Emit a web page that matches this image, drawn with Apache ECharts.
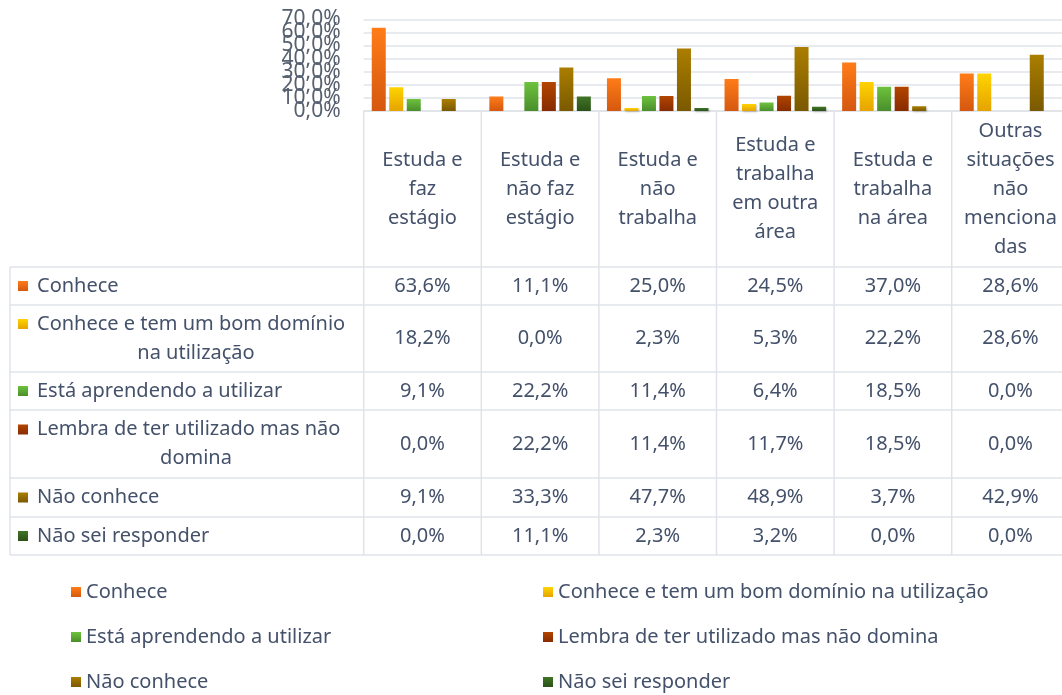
<!DOCTYPE html>
<html>
<head>
<meta charset="utf-8">
<script src="https://cdn.jsdelivr.net/npm/echarts@6/dist/echarts.min.js"></script>
<style>
  html, body { margin: 0; padding: 0; background: #fff; overflow: hidden; }
  #chart { width: 1070px; height: 695px; }
</style>
</head>
<body>
<div id="chart"></div>
<script>
const categories = [
  'Estuda e\nfaz\nestágio',
  'Estuda e\nnão faz\nestágio',
  'Estuda e\nnão\ntrabalha',
  'Estuda e\ntrabalha\nem outra\nárea',
  'Estuda e\ntrabalha\nna área',
  'Outras\nsituações\nnão\nmenciona\ndas'
]
const seriesNames = [
  'Conhece',
  'Conhece e tem um bom domínio na utilização',
  'Está aprendendo a utilizar',
  'Lembra de ter utilizado mas não domina',
  'Não conhece',
  'Não sei responder'
]
// row labels as they wrap in the data table
const tableLabels = [
  ['Conhece'],
  ['Conhece e tem um bom domínio', 'na utilização'],
  ['Está aprendendo a utilizar'],
  ['Lembra de ter utilizado mas não', 'domina'],
  ['Não conhece'],
  ['Não sei responder']
]
const yTicks = [0, 10, 20, 30, 40, 50, 60, 70]
const conhece = [63.6, 11.1, 25.0, 24.5, 37.0, 28.6]
const conheceBomDominio = [18.2, 0.0, 2.3, 5.3, 22.2, 28.6]
const aprendendo = [9.1, 22.2, 11.4, 6.4, 18.5, 0.0]
const lembra = [0.0, 22.2, 11.4, 11.7, 18.5, 0.0]
const naoConhece = [9.1, 33.3, 47.7, 48.9, 3.7, 42.9]
const naoSei = [0.0, 11.1, 2.3, 3.2, 0.0, 0.0]
const seriesValues = [conhece, conheceBomDominio, aprendendo, lembra, naoConhece, naoSei]

const colors = [
  ['#ff7c18', '#d4580f'],
  ['#ffd400', '#e5a300'],
  ['#6ec23e', '#4a8e2b'],
  ['#b34500', '#872c00'],
  ['#ab7e00', '#7a5900'],
  ['#407526', '#2b5118']
]

const textColor = '#44516a'
const lineColor = '#dfe3e9'
const font = '"Noto Sans", "Open Sans", sans-serif'

function pct(v) {
  return v.toFixed(1).replace('.', ',') + '%'
}
function grad(c) {
  return new echarts.graphic.LinearGradient(0, 0, 0, 1, [
    { offset: 0, color: c[0] },
    { offset: 1, color: c[1] }
  ])
}

const chart = echarts.init(document.getElementById('chart'))

const legendBase = {
  top: 577, height: 120, orient: 'vertical',
  itemWidth: 10, itemHeight: 10, itemGap: 25, icon: 'rect',
  textStyle: { color: textColor, fontSize: 20, lineHeight: 20 }
}

const option = {
  animation: false,
  backgroundColor: '#fff',
  textStyle: { fontFamily: font },
  grid: { left: 363.7, top: 19.3, width: 705.6, height: 91.7 },
  xAxis: {
    type: 'category',
    data: categories,
    axisLine: { lineStyle: { color: lineColor, width: 1.5 } },
    axisTick: { show: false },
    axisLabel: {
      color: textColor,
      fontSize: 20,
      lineHeight: 29,
      margin: 78,
      verticalAlign: 'middle',
      interval: 0
    }
  },
  yAxis: {
    type: 'value',
    min: 0,
    max: 70,
    interval: 10,
    axisLine: { show: false },
    axisTick: { show: false },
    splitLine: { show: true, lineStyle: { color: lineColor, width: 1.5 } },
    // labels overlap heavily in the original, drawn below so none get dropped
    axisLabel: { show: false }
  },
  legend: [
    Object.assign({ left: 66, data: [seriesNames[0], seriesNames[2], seriesNames[4]] }, legendBase),
    Object.assign({ left: 538, data: [seriesNames[1], seriesNames[3], seriesNames[5]] }, legendBase)
  ],
  series: seriesNames.map((name, i) => ({
    name: name,
    type: 'bar',
    data: seriesValues[i],
    barWidth: 14,
    barGap: '25%',
    itemStyle: {
      color: grad(colors[i]),
      shadowColor: 'rgba(0,0,0,0.25)',
      shadowBlur: 2,
      shadowOffsetX: 1,
      shadowOffsetY: 1
    }
  }))
}

chart.setOption(option)

// data table below the axis, laid out from the category axis
const rowHeights = [38, 67, 38, 68, 39, 38]
const tableTop = 111
const headerBottom = 267
const tableLeft = 10
const x0 = chart.convertToPixel({ xAxisIndex: 0 }, 0)
const x1 = chart.convertToPixel({ xAxisIndex: 0 }, 1)
const colW = x1 - x0
const firstEdge = x0 - colW / 2
const rightEdge = firstEdge + colW * categories.length

const graphics = []
const line = (xa, ya, xb, yb) => graphics.push({
  type: 'line', silent: true,
  shape: { x1: xa, y1: ya, x2: xb, y2: yb },
  style: { stroke: lineColor, lineWidth: 1.5 }
})

// y tick labels, placed with the value axis
yTicks.forEach(v => {
  graphics.push({
    type: 'text', silent: true, z: 10,
    x: firstEdge - 23,
    y: chart.convertToPixel({ yAxisIndex: 0 }, v),
    style: {
      text: pct(v), fill: '#56606f', fontSize: 21, fontFamily: font,
      align: 'right', verticalAlign: 'middle'
    }
  })
})

// row edges
const rowEdges = [headerBottom]
rowHeights.forEach(h => rowEdges.push(rowEdges[rowEdges.length - 1] + h))
rowEdges.forEach(y => line(tableLeft, y, rightEdge, y))
line(tableLeft, headerBottom, tableLeft, rowEdges[rowEdges.length - 1])
for (let c = 0; c <= categories.length; c++) {
  const x = firstEdge + c * colW
  line(x, tableTop, x, rowEdges[rowEdges.length - 1])
}

seriesNames.forEach((name, r) => {
  const yTop = rowEdges[r]
  const yBot = rowEdges[r + 1]
  const lines = tableLabels[r]
  const lh = 29
  const yFirst = (yTop + yBot) / 2 - (lines.length - 1) * lh / 2
  graphics.push({
    type: 'rect', silent: true,
    shape: { x: 18, y: yFirst - 5, width: 10, height: 10 },
    style: { fill: grad(colors[r]) }
  })
  lines.forEach((t, k) => {
    graphics.push({
      type: 'text', silent: true,
      x: k === 0 ? 37 : 196,
      y: yFirst + k * lh,
      style: {
        text: t, fill: textColor, fontSize: 20, fontFamily: font,
        align: k === 0 ? 'left' : 'center', verticalAlign: 'middle'
      }
    })
  })
  seriesValues[r].forEach((v, c) => {
    graphics.push({
      type: 'text', silent: true,
      x: chart.convertToPixel({ xAxisIndex: 0 }, c),
      y: (yTop + yBot) / 2,
      style: {
        text: pct(v), fill: textColor, fontSize: 20, fontFamily: font,
        align: 'center', verticalAlign: 'middle'
      }
    })
  })
})

chart.setOption({ graphic: graphics })
</script>
</body>
</html>
